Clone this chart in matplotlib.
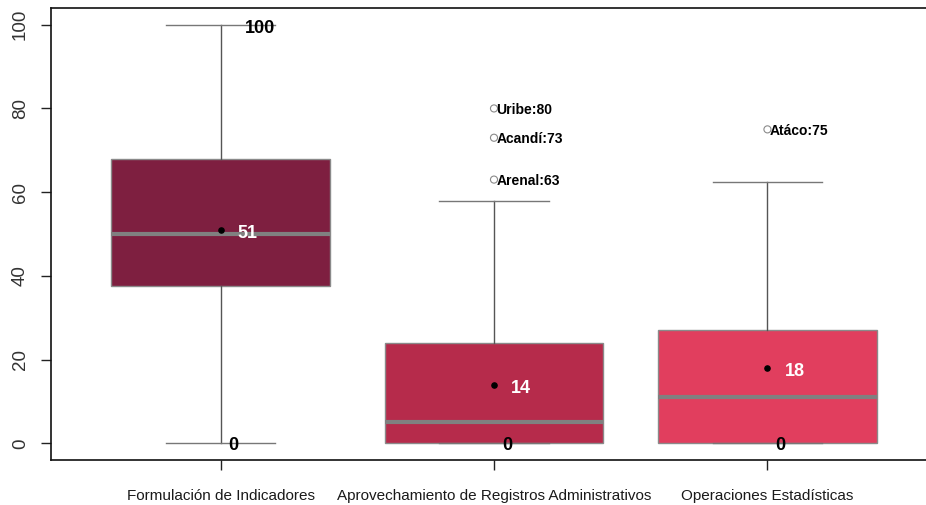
import numpy as np
import matplotlib.pyplot as plt
from matplotlib import font_manager

# estadisticos por componente (cuartiles y bigotes)
categorias = ['Formulación de Indicadores',
              'Aprovechamiento de Registros Administrativos',
              'Operaciones Estadísticas']
minimos = [0, 0, 0]
q1 = [37.5, 0, 0]
medianas = [50, 5, 11]
q3 = [68, 24, 27]
bigote_sup = [100, 58, 62.5]
promedios = [51, 14, 18]
colores = ['#7E1F40', '#B62B4B', '#E13E5E']

# valores atipicos con su municipio
atip_grupo = [2, 2, 2, 3]
atip_valor = [80, 73, 63, 75]
atip_nombre = ['Uribe', 'Acandí', 'Arenal', 'Atáco']

fams = [f.name for f in font_manager.fontManager.ttflist]
narrow = 'Liberation Sans Narrow' if 'Liberation Sans Narrow' in fams else 'Liberation Sans'

fig = plt.figure(figsize=(9.26, 5.05), dpi=100)
ax = fig.add_axes([51 / 926, 45 / 505, 886 / 926, 452 / 505])

stats = []
for i in range(3):
    stats.append({'med': medianas[i], 'q1': q1[i], 'q3': q3[i],
                  'whislo': minimos[i], 'whishi': bigote_sup[i],
                  'fliers': [], 'label': categorias[i]})

bp = ax.bxp(stats, positions=[1, 2, 3], widths=0.8, patch_artist=True,
            showfliers=False, showcaps=True,
            boxprops=dict(edgecolor='#8a8a8a', linewidth=1.0),
            medianprops=dict(color='#808080', linewidth=3, solid_capstyle='butt'),
            whiskerprops=dict(color='#555555', linewidth=1.0),
            capprops=dict(color='#777777', linewidth=1.0),
            capwidths=0.4)
for patch, c in zip(bp['boxes'], colores):
    patch.set_facecolor(c)

# promedios
ax.scatter([1, 2, 3], promedios, s=14, color='black', zorder=5)
for i in range(3):
    ax.text(i + 1 + 0.063, promedios[i] - 0.8, str(promedios[i]), color='white',
            fontsize=13, fontweight='bold', family=narrow,
            ha='left', va='center', zorder=6)
    ax.text(i + 1 + 0.048, minimos[i] - 0.6, str(minimos[i]), color='black',
            fontsize=13, fontweight='bold', family=narrow,
            ha='center', va='center', zorder=6)
ax.text(1 + 0.146, bigote_sup[0] - 0.9, str(bigote_sup[0]), color='black',
        fontsize=13, fontweight='bold', family=narrow,
        ha='center', va='center', zorder=6)

# atipicos
ax.scatter(atip_grupo, atip_valor, s=26, facecolors='none',
           edgecolors='#8a8a8a', linewidths=0.8, zorder=4)
for g, v, n in zip(atip_grupo, atip_valor, atip_nombre):
    ax.text(g + 0.008, v - 0.4, f'{n}:{v}', color='black', fontsize=10,
            fontweight='bold', family=narrow, ha='left', va='center', zorder=6)

ax.set_xlim(0.38, 3.62)
ax.set_ylim(-4, 104)
ax.set_xticks([1, 2, 3])
ax.set_xticklabels(categorias, family=narrow, fontsize=11, color='#1a1a1a')
ax.set_yticks([0, 20, 40, 60, 80, 100])
ax.set_yticklabels(['0', '20', '40', '60', '80', '100'], rotation=90,
                   va='center', family='Liberation Sans', fontsize=13.5,
                   color='#333333')
ax.tick_params(axis='both', length=7, width=1, color='#222222')
ax.tick_params(axis='x', pad=14)
ax.tick_params(axis='y', pad=9)
for s in ax.spines.values():
    s.set_linewidth(1.2)
    s.set_color('#111111')

fig.savefig('out.png', dpi=100)
